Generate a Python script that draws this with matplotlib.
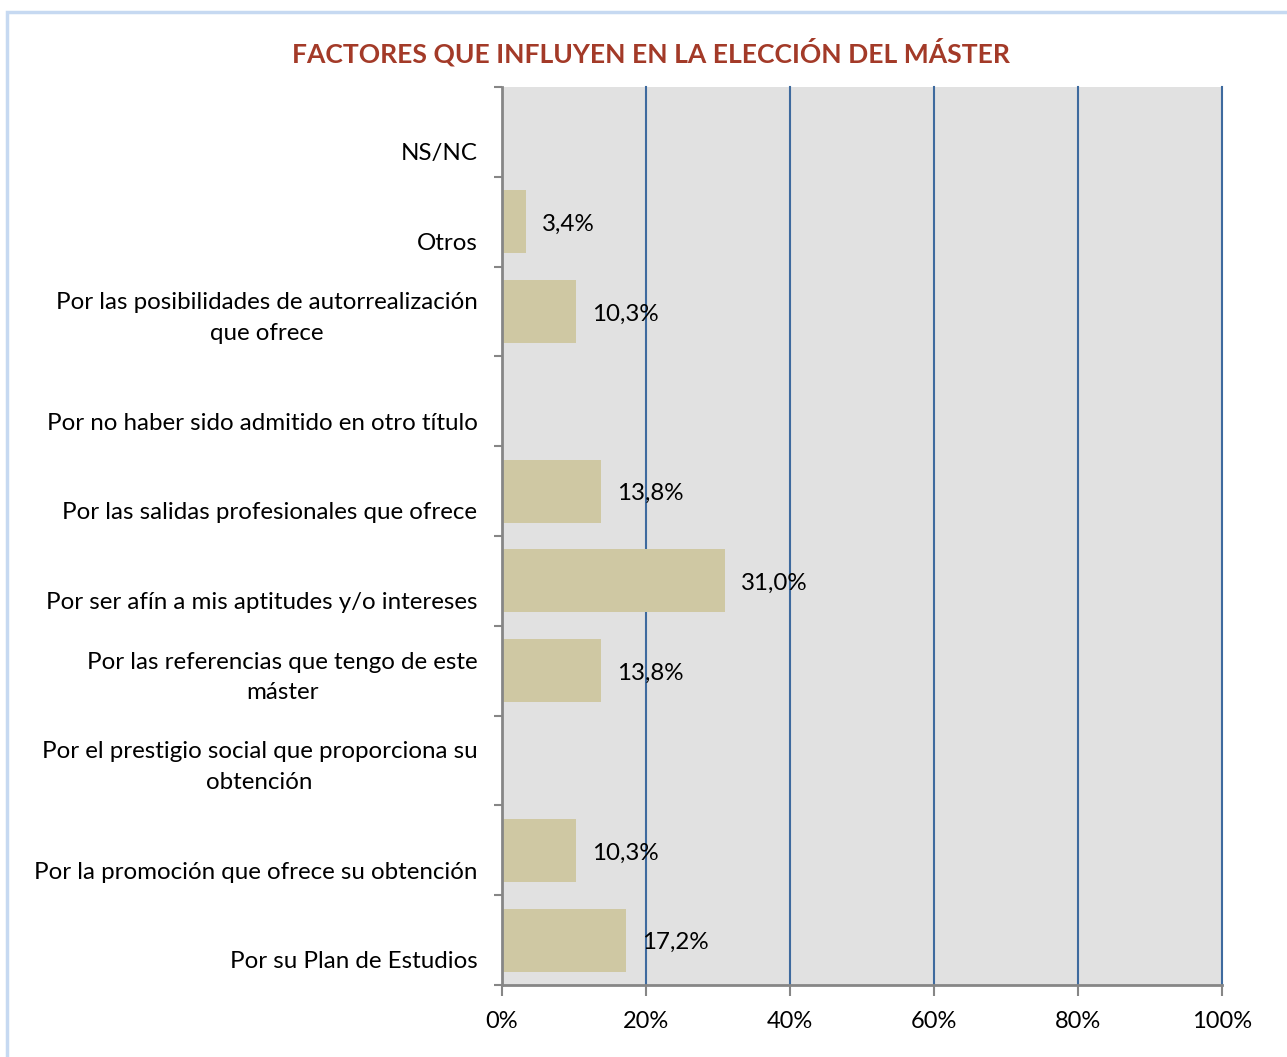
import matplotlib
matplotlib.use("Agg")
from matplotlib import pyplot as plt
from matplotlib.patches import Rectangle
import numpy as np

# datos (de abajo hacia arriba)
categorias = [
    "Por su Plan de Estudios",
    "Por la promoción que ofrece su obtención",
    "Por el prestigio social que proporciona su\nobtención",
    "Por las referencias que tengo de este\nmáster",
    "Por ser afín a mis aptitudes y/o intereses",
    "Por las salidas profesionales que ofrece",
    "Por no haber sido admitido en otro título",
    "Por las posibilidades de autorrealización\nque ofrece",
    "Otros",
    "NS/NC",
]
valores = [17.2, 10.3, 0.0, 13.8, 31.0, 13.8, 0.0, 10.3, 3.4, 0.0]
ticks_x = [0, 20, 40, 60, 80, 100]

plt.rcParams["font.family"] = ["Lato", "DejaVu Sans"]

fig = plt.figure(figsize=(12.87, 10.57), dpi=100)
ax = fig.add_axes([0.390, 0.0681, 0.5595, 0.8496])

# borde de la figura
fig.patches.append(Rectangle((0.0055, -0.01), 1.0, 0.9985, transform=fig.transFigure,
                             fill=False, edgecolor="#c6d9f1", linewidth=2.5))

ax.set_facecolor("#e1e1e1")
y = np.arange(len(categorias))
ax.barh(y, valores, height=0.7, color="#cfc8a3", zorder=3)

ax.set_xlim(0, 100)
ax.set_ylim(-0.5, len(categorias) - 0.5)
ax.set_xticks(ticks_x)
ax.set_xticklabels([f"{t}%" for t in ticks_x], fontsize=17)
ax.tick_params(axis="x", length=8, width=1.5, color="#868686", pad=11)
ax.set_yticks(np.arange(len(categorias) + 1) - 0.5)
ax.set_yticklabels([])
ax.tick_params(axis="y", length=6, width=1.5, color="#868686")

for t in ticks_x[1:]:
    ax.axvline(t, color="#3e6a9e", linewidth=1.5, zorder=2, clip_on=False)

for side in ["top", "right"]:
    ax.spines[side].set_visible(False)
for side in ["left", "bottom"]:
    ax.spines[side].set_color("#868686")
    ax.spines[side].set_linewidth(2)
    ax.spines[side].set_zorder(4)

# etiquetas de categoria
for i, cat in enumerate(categorias):
    ax.text(-3.4, i - 0.36, cat, ha="right", va="bottom", multialignment="center",
            fontsize=17.4, linespacing=1.55, transform=ax.transData, clip_on=False)

# etiquetas de valor
for i, v in enumerate(valores):
    if v > 0:
        ax.text(v + 2.2, i - 0.03, f"{v:.1f}%".replace(".", ","), ha="left", va="center",
                fontsize=17.4, zorder=5)

fig.text(0.506, 0.951, "FACTORES QUE INFLUYEN EN LA ELECCIÓN DEL MÁSTER",
         ha="center", va="center", fontsize=19.1, fontweight="bold", color="#a33a28")

fig.savefig("out.png", dpi=100)
